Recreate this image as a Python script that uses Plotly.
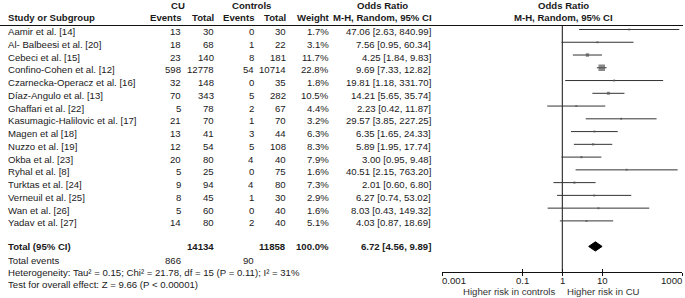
import math
import plotly.graph_objects as go

# ---------------- data ----------------
studies = ["Aamir et al. [14]", "Al- Balbeesi et al. [20]", "Cebeci et al. [15]",
           "Confino-Cohen et al. [12]", "Czarnecka-Operacz et al. [16]", "Díaz-Angulo et al. [13]",
           "Ghaffari et al. [22]", "Kasumagic-Halilovic et al. [17]", "Magen et al [18]",
           "Nuzzo et al. [19]", "Okba et al. [23]", "Ryhal et al. [8]", "Turktas et al. [24]",
           "Verneuil et al. [25]", "Wan et al. [26]", "Yadav et al. [27]"]
cu_events = [13, 18, 23, 598, 32, 70, 5, 21, 13, 12, 20, 5, 9, 8, 5, 14]
cu_total = [30, 68, 140, 12778, 148, 343, 78, 70, 41, 54, 80, 25, 94, 45, 60, 80]
ctrl_events = [0, 1, 8, 54, 0, 5, 2, 1, 3, 5, 4, 0, 4, 1, 0, 2]
ctrl_total = [30, 22, 181, 10714, 35, 282, 67, 70, 44, 108, 40, 75, 80, 30, 40, 40]
weights = [1.7, 3.1, 11.7, 22.8, 1.8, 10.5, 4.4, 3.2, 6.3, 8.3, 7.9, 1.6, 7.3, 2.9, 1.6, 5.1]
or_est = [47.06, 7.56, 4.25, 9.69, 19.81, 14.21, 2.23, 29.57, 6.35, 5.89, 3.00, 40.51, 2.01, 6.27, 8.03, 4.03]
ci_low = [2.63, 0.95, 1.84, 7.33, 1.18, 5.65, 0.42, 3.85, 1.65, 1.95, 0.95, 2.15, 0.60, 0.74, 0.43, 0.87]
ci_high = [840.99, 60.34, 9.83, 12.82, 331.70, 35.74, 11.87, 227.25, 24.33, 17.74, 9.48, 763.20, 6.80, 53.02, 149.32, 18.69]

total_label = "Total (95% CI)"
total_cu = 14134
total_ctrl = 11858
total_weight = 100.0
total_or = 6.72
total_low = 4.56
total_high = 9.89
events_cu = 866
events_ctrl = 90
heterogeneity = "Heterogeneity: Tau² = 0.15; Chi² = 21.78, df = 15 (P = 0.11); I² = 31%"
overall = "Test for overall effect: Z = 9.66 (P < 0.00001)"

tick_vals = [0.001, 0.1, 1, 10, 1000]
tick_labels = ["0.001", "0.1", "1", "10", "1000"]
favours_left = "Higher risk in controls"
favours_right = "Higher risk in CU"

# ---------------- layout helpers ----------------
W, H = 685, 298
ROW0, ROWH = 29.5, 12.76          # pixel of first study row, row pitch
TXT_OFF = 2.0                      # text sits slightly below the mark line
FONT = "Liberation Sans, Arial, sans-serif"
FS = 9.6
TC = "#1a1a1a"
AXIS_PX = 271.7
X_LEFT_PX, X_RIGHT_PX = 442.3, 682.3


def yv(px):
    return (px - ROW0) / ROWH


def px_of_row(r):
    return ROW0 + ROWH * r


annotations = []


def txt(xpx, ypx, s, anchor="left", bold=False, color=TC):
    annotations.append(dict(
        x=xpx / W, xref="paper", y=yv(ypx), yref="y", text=("<b>%s</b>" % s) if bold else s,
        showarrow=False, xanchor=anchor, yanchor="middle",
        font=dict(family=FONT, size=FS, color=color), borderpad=0))


# column positions (px)
C_NAME = 7
C_CU_EV, C_CU_TOT, C_CT_EV, C_CT_TOT, C_WT, C_OR = 182, 215, 255, 287, 329.5, 432
C_OR_HDR = 382
C_PLOT_HDR = 563

# headers
txt(178, 5.5, "CU", "center", True)
txt(252, 5.5, "Controls", "center", True)
txt(C_OR_HDR, 5.5, "Odds Ratio", "center", True)
txt(C_PLOT_HDR, 5.5, "Odds Ratio", "center", True)
txt(C_NAME, 17, "Study or Subgroup", "left", True)
txt(C_CU_EV, 17, "Events", "right", True)
txt(C_CU_TOT, 17, "Total", "right", True)
txt(C_CT_EV, 17, "Events", "right", True)
txt(C_CT_TOT, 17, "Total", "right", True)
txt(C_WT + 1, 17, "Weight", "right", True)
txt(C_OR_HDR, 17, "M-H, Random, 95% CI", "center", True)
txt(C_PLOT_HDR, 17, "M-H, Random, 95% CI", "center", True)

# study rows
rows = list(range(len(studies)))
for i in rows:
    ypx = px_of_row(i) + TXT_OFF
    txt(C_NAME, ypx, studies[i])
    txt(C_CU_EV, ypx, str(cu_events[i]), "right")
    txt(C_CU_TOT, ypx, str(cu_total[i]), "right")
    txt(C_CT_EV, ypx, str(ctrl_events[i]), "right")
    txt(C_CT_TOT, ypx, str(ctrl_total[i]), "right")
    txt(C_WT, ypx, "%.1f%%" % weights[i], "right")
    txt(C_OR, ypx, "%.2f [%.2f, %.2f]" % (or_est[i], ci_low[i], ci_high[i]), "right")

# total rows
total_row = len(studies) + 1
tpx = px_of_row(total_row) + 0.5
txt(C_NAME, tpx, total_label, "left", True)
txt(C_CU_TOT, tpx, str(total_cu), "right", True)
txt(C_CT_TOT, tpx, str(total_ctrl), "right", True)
txt(C_WT, tpx, "%.1f%%" % total_weight, "right", True)
txt(C_OR, tpx, "%.2f [%.2f, %.2f]" % (total_or, total_low, total_high), "right", True)
txt(C_NAME, 260, "Total events")
txt(C_CU_EV, 260, str(events_cu), "right")
txt(C_CT_EV, 260, str(events_ctrl), "right")
txt(C_NAME, 272, heterogeneity)
txt(C_NAME, 284, overall)

# tick labels (end labels aligned inward, as in RevMan)
for k, (v, lab) in enumerate(zip(tick_vals, tick_labels)):
    anc = "left" if k == 0 else ("right" if k == len(tick_vals) - 1 else "center")
    annotations.append(dict(x=math.log10(v), xref="x", y=yv(280.5), yref="y", text=lab,
                            showarrow=False, xanchor=anc, yanchor="middle", borderpad=0,
                            xshift=-1 if anc == "left" else (1 if anc == "right" else 0),
                            font=dict(family=FONT, size=FS, color=TC)))
annotations.append(dict(x=0, xref="x", y=yv(291.5), yref="y", text=favours_left, showarrow=False,
                        xanchor="right", xshift=-6, yanchor="middle", borderpad=0,
                        font=dict(family=FONT, size=FS, color="#333")))
annotations.append(dict(x=0, xref="x", y=yv(291.5), yref="y", text=favours_right, showarrow=False,
                        xanchor="left", xshift=4, yanchor="middle", borderpad=0,
                        font=dict(family=FONT, size=FS, color="#333")))

# ---------------- traces ----------------
fig = go.Figure()

# null line
fig.add_trace(go.Scatter(x=[1, 1], y=[yv(25.5), yv(AXIS_PX)], mode="lines",
                         line=dict(color="#111", width=1), hoverinfo="skip", showlegend=False))

# CI lines
xs, ys = [], []
for i in rows:
    xs += [ci_low[i], ci_high[i], None]
    ys += [i, i, None]
fig.add_trace(go.Scatter(x=xs, y=ys, mode="lines", line=dict(color="#333", width=1),
                         hoverinfo="skip", showlegend=False))

# point estimates (size ~ weight)
wmax = max(weights)
sizes = [max(2.0, 6.5 * w / wmax) for w in weights]
fig.add_trace(go.Scatter(x=or_est, y=rows, mode="markers",
                         marker=dict(symbol="square", size=sizes, color="#555",
                                     line=dict(width=0)),
                         hoverinfo="skip", showlegend=False))

# pooled diamond
dh = 4.6 / ROWH
fig.add_trace(go.Scatter(x=[total_low, total_or, total_high, total_or, total_low],
                         y=[total_row, total_row - dh, total_row, total_row + dh, total_row],
                         mode="lines", fill="toself", fillcolor="#000",
                         line=dict(color="#000", width=1), hoverinfo="skip", showlegend=False))

# dummy trace for second (tick) axis
fig.add_trace(go.Scatter(x=[1], y=[0], xaxis="x2", yaxis="y", mode="markers",
                         marker=dict(opacity=0), hoverinfo="skip", showlegend=False))

axis_common = dict(type="log", range=[-3, 3],
                   domain=[X_LEFT_PX / W, X_RIGHT_PX / W], anchor="free",
                   position=1 - AXIS_PX / H, tickvals=tick_vals, showticklabels=False,
                   showgrid=False, zeroline=False, ticklen=3, tickwidth=1, tickcolor="#111",
                   fixedrange=True)

fig.update_layout(
    width=W, height=H, margin=dict(l=0, r=0, t=0, b=0),
    paper_bgcolor="white", plot_bgcolor="white",
    xaxis=dict(**axis_common, ticks="outside", showline=True, linecolor="#111", linewidth=1),
    xaxis2=dict(**axis_common, ticks="inside", showline=False, overlaying="x"),
    yaxis=dict(range=[yv(H), yv(0)], domain=[0, 1], visible=False, fixedrange=True),
    annotations=annotations,
    shapes=[dict(type="line", xref="paper", yref="paper", x0=0, x1=683 / W,
                 y0=1 - 25.5 / H, y1=1 - 25.5 / H, line=dict(color="#111", width=1))],
    showlegend=False,
)

fig.write_html("out.html", config={"displayModeBar": False},
               post_script="document.body.style.margin='0';document.body.style.overflow='hidden';")
